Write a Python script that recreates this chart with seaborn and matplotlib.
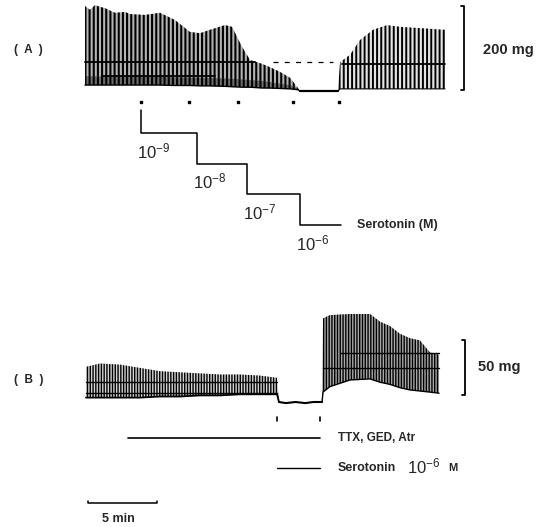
import numpy as np
import pandas as pd
import matplotlib
matplotlib.use("Agg")
import matplotlib.pyplot as plt
import seaborn as sns

# ---------------- data (time in min, force in mg) ----------------
# Panel A: contraction envelope (top / bottom of the twitches), before/after wash
a_time = [0.0, 0.36, 0.72, 1.08, 1.44, 2.17, 2.89, 3.25, 4.33, 5.42,
          6.50, 7.58, 8.31, 9.03, 10.11, 10.62, 11.34, 11.92, 12.78, 13.36,
          14.08, 14.81, 15.38, 15.53]
a_top = [200, 191, 202, 198, 195, 184, 186, 181, 179, 184,
         167, 139, 136, 144, 155, 151, 104, 73, 64, 56,
         45, 31, 7, 0]
a_bottom = [14, 14, 14, 14, 14, 14, 14, 14, 14, 14,
            13, 13, 12, 12, 11, 10, 9, 9, 7, 7,
            6, 5, 3, 0]
a_flat_time = [15.53, 18.27]
a_flat_level = [0, 0]
a_rec_time = [18.27, 18.42, 19.14, 19.86, 20.80, 21.81, 22.75, 24.19, 26.0]
a_rec_top = [0, 68, 85, 120, 144, 155, 151, 148, 144]
a_rec_bottom = [0, 5, 5, 5, 5, 5, 5, 5, 5]
# dense lower band of panel A
a_band_time = [0.0, 5.42, 10.11, 12.78, 14.81, 15.38]
a_band_top = [35, 33, 30, 24, 14, 6]
a_band_bottom = [14, 14, 11, 7, 5, 3]

# Panel B envelope: control / TTX+serotonin / after
b_time = [0.07, 1.08, 2.53, 3.97, 5.42, 6.86, 8.31, 9.75, 11.19, 12.64,
          13.87, 14.01]
b_top = [32, 35, 34, 31, 28, 27, 26, 25, 25, 24, 22, 0]
b_bottom = [4, 4, 4, 4, 5, 5, 6, 6, 7, 7, 7, 0]
b_flat_time = [14.01, 14.5, 15.2, 15.9, 16.5, 17.12]
b_flat_level = [0, -1, 0, -1, 0, 0]
b_rec_time = [17.12, 17.19, 17.69, 19.14, 20.58, 21.31, 22.03, 22.75,
              23.47, 24.19, 24.92, 25.57]
b_rec_top = [0, 76, 79, 80, 80, 73, 69, 62, 58, 56, 45, 43]
b_rec_bottom = [0, 9, 14, 20, 21, 18, 16, 13, 11, 10, 9, 8]

# horizontal pen lines (start min, end min, level mg)
a_lines_start = [0.0, 1.2, 18.56]
a_lines_end = [12.3, 9.4, 26.0]
a_lines_level = [68, 35, 64]
a_dash_start, a_dash_end, a_dash_level = 13.6, 17.9, 68
b_lines_start = [0.07, 0.07, 17.19, 18.4]
b_lines_end = [13.87, 13.87, 25.57, 25.57]
b_lines_level = [18, 8, 31, 45]

# Serotonin cumulative steps (panel A)
step_times = [4.04, 8.09, 11.70, 15.53]
step_end = 18.49
step_exps = [-9, -8, -7, -6]
a_event_times = [4.04, 7.51, 11.05, 15.02, 18.34]

# Panel B drug applications
b_event_times = [13.87, 16.97]
ttx_span = [3.1, 16.97]
sero_span = [13.9, 16.97]

scale_a_mg = 200
scale_b_mg = 50
scale_min = 5

# ---------------- layout helpers (pixel geometry of the page) ----------------
W, H = 551, 527
T0_PX, PX_PER_MIN = 85.0, 13.846


def tx(px):
    return (px - T0_PX) / PX_PER_MIN


sns.set_style("white")
plt.rcParams["font.family"] = ["Liberation Sans", "DejaVu Sans"]
plt.rcParams["mathtext.fontset"] = "custom"
plt.rcParams["mathtext.rm"] = "Liberation Sans"
plt.rcParams["mathtext.it"] = "Liberation Sans"
plt.rcParams["hatch.color"] = "black"

fig = plt.figure(figsize=(W / 100, H / 100), dpi=100)
fig.patch.set_facecolor("white")


def full_axes(ylim):
    ax = fig.add_axes([0, 0, 1, 1])
    ax.set_xlim(tx(0), tx(W))
    ax.set_ylim(*ylim)
    ax.axis("off")
    ax.patch.set_alpha(0)
    return ax


def trace_fill(ax, t, lo, hi, face, hatch, lw):
    with plt.rc_context({"hatch.linewidth": lw}):
        ax.fill_between(t, lo, hi, facecolor=face, edgecolor="black",
                        hatch=hatch, linewidth=0)


# Panel A axes: 0 mg at y=91 px, 0.425 px per mg
A0, AS = 91.0, 0.425
axA = full_axes(((A0 - H) / AS, A0 / AS))
# Panel B axes: 0 mg at y=402 px, 1.1 px per mg
B0, BS = 402.0, 1.1
axB = full_axes(((B0 - H) / BS, B0 / BS))
# Step axes: exponent -9 at y=133 px, 30.67 px per decade (downwards)
S0, SS = 133.0, 30.67
axS = full_axes((-9 + (H - S0) / SS, -9 - S0 / SS))
# overlay in page pixels for text
axO = fig.add_axes([0, 0, 1, 1])
axO.set_xlim(0, W)
axO.set_ylim(H, 0)
axO.axis("off")
axO.patch.set_alpha(0)

k = dict(color="black", estimator=None, sort=False, legend=False)

# ---------------- Panel A trace ----------------
trace_fill(axA, a_time, a_bottom, a_top, "#b4b4b4", "||||", 1.5)
trace_fill(axA, a_band_time, a_band_bottom, a_band_top, "#6e6e6e", "||||", 1.5)
trace_fill(axA, a_rec_time, a_rec_bottom, a_rec_top, "#e4e4e4", "||||", 1.4)
sns.lineplot(x=a_time, y=a_bottom, ax=axA, linewidth=1.0, **k)
sns.lineplot(x=a_flat_time, y=a_flat_level, ax=axA, linewidth=1.6, **k)
sns.lineplot(x=a_rec_time, y=a_rec_bottom, ax=axA, linewidth=0.8, **k)
for s, e, lv in zip(a_lines_start, a_lines_end, a_lines_level):
    sns.lineplot(x=[s, e], y=[lv, lv], ax=axA, linewidth=1.3, **k)
axA.plot([a_dash_start, a_dash_end], [a_dash_level] * 2, color="black",
         linewidth=0.9, dashes=(4, 5))
axA.scatter(a_event_times, [(A0 - 102) / AS] * len(a_event_times), s=1.5,
            color="black", marker="s")
# scale bar 200 mg
xs = tx(464)
sns.lineplot(x=[xs - 0.2, xs, xs, xs - 0.2], y=[scale_a_mg, scale_a_mg, 2, 2],
             ax=axA, linewidth=1.3, **k)

# ---------------- concentration steps ----------------
sx = [step_times[0], step_times[0]]
sy = [step_exps[0] - 0.75, step_exps[0]]
for i in range(len(step_times)):
    nxt = step_times[i + 1] if i + 1 < len(step_times) else step_end
    sx += [nxt]
    sy += [step_exps[i]]
    if i + 1 < len(step_times):
        sx += [nxt]
        sy += [step_exps[i + 1]]
sns.lineplot(x=sx, y=sy, ax=axS, linewidth=1.1, **k)
for t, e in zip(step_times, step_exps):
    axS.text(t - 0.3, e + 0.82, r"$10^{-%d}$" % (-e), fontsize=12,
             ha="left", va="baseline")
axS.text(tx(357), step_exps[-1], "Serotonin (M)", fontsize=9, fontweight="bold",
         ha="left", va="center")

# ---------------- Panel B trace ----------------
trace_fill(axB, b_time, b_bottom, b_top, "#d4d4d4", "||||||", 1.0)
trace_fill(axB, b_rec_time, b_rec_bottom, b_rec_top, "#a8a8a8", "||||||", 1.0)
sns.lineplot(x=b_time, y=b_bottom, ax=axB, linewidth=1.3, **k)
sns.lineplot(x=b_flat_time, y=b_flat_level, ax=axB, linewidth=1.5, **k)
sns.lineplot(x=b_rec_time, y=b_rec_bottom, ax=axB, linewidth=1.0, **k)
for s, e, lv in zip(b_lines_start, b_lines_end, b_lines_level):
    sns.lineplot(x=[s, e], y=[lv, lv], ax=axB, linewidth=1.0, **k)
for t in b_event_times:
    axB.plot([t, t], [(B0 - 417) / BS, (B0 - 421) / BS], color="black", linewidth=1.2)
yttx = (B0 - 438) / BS
ysero = (B0 - 468) / BS
sns.lineplot(x=ttx_span, y=[yttx, yttx], ax=axB, linewidth=1.2, **k)
sns.lineplot(x=sero_span, y=[ysero, ysero], ax=axB, linewidth=1.0, **k)
axB.text(tx(338), yttx, "TTX, GED, Atr", fontsize=8.5, fontweight="bold",
         ha="left", va="center")
axB.text(tx(338), ysero, "Serotonin", fontsize=9, fontweight="bold",
         ha="left", va="center")
axB.text(tx(407), ysero - 4.5, r"$10^{-6}$", fontsize=12, ha="left", va="baseline")
axB.text(tx(448), ysero, "M", fontsize=8, fontweight="bold", ha="left", va="center")
# scale bar 50 mg
xs = tx(465)
yb0 = (B0 - 395) / BS
sns.lineplot(x=[xs - 0.2, xs, xs, xs - 0.2], y=[yb0 + scale_b_mg, yb0 + scale_b_mg, yb0, yb0],
             ax=axB, linewidth=1.3, **k)
# time scale bar 5 min
y5 = (B0 - 503) / BS
t5 = tx(88)
sns.lineplot(x=[t5, t5, t5 + scale_min, t5 + scale_min], y=[y5 + 2, y5, y5, y5 + 2],
             ax=axB, linewidth=1.1, **k)

# ---------------- page text ----------------
axO.text(14, 50, "(  A  )", fontsize=8.5, fontweight="bold", ha="left", va="center")
axO.text(14, 380, "(  B  )", fontsize=8.5, fontweight="bold", ha="left", va="center")
axO.text(483, 50, "200 mg", fontsize=10.5, fontweight="bold", ha="left", va="center")
axO.text(478, 367, "50 mg", fontsize=10.5, fontweight="bold", ha="left", va="center")
axO.text(102, 519, "5 min", fontsize=9, fontweight="bold", ha="left", va="center")

fig.savefig("out.png", dpi=100, facecolor="white")
